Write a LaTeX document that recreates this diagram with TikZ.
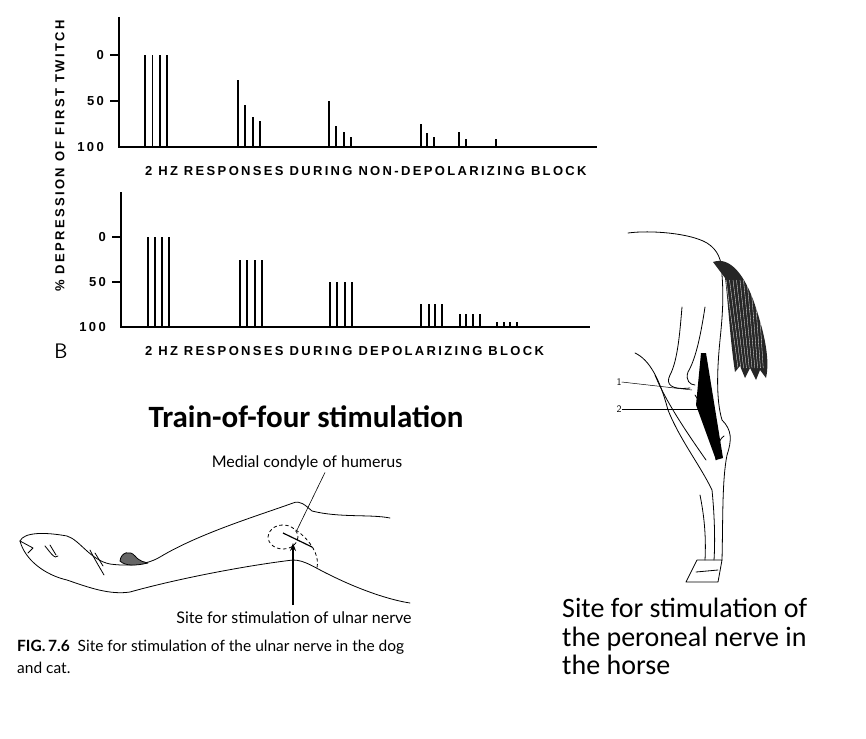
\documentclass[tikz,border=0pt]{standalone}
\usepackage{fontspec}
\setmainfont{Carlito}
\newfontfamily\chartfont[LetterSpace=18]{Liberation Sans}
\newfontfamily\capfont{Lato}
\usetikzlibrary{arrows.meta}
\begin{document}
\begin{tikzpicture}[x=1pt,y=-1pt,
  ax/.style={line width=1.6pt},
  bar/.style={line width=1.5pt},
  lbl/.style={font=\chartfont\bfseries\fontsize{13}{14}\selectfont, inner sep=0},
  tick/.style={font=\chartfont\bfseries\fontsize{13}{14}\selectfont, anchor=east, inner sep=0},
  ink/.style={line width=0.8pt, line join=round, line cap=round},
  big/.style={font=\fontsize{28}{28.5}\selectfont, align=left, anchor=north west, inner sep=0}]
\useasboundingbox (0,0) rectangle (866,738);
% ---------- top chart
\draw[ax] (119,17) -- (119,147) -- (597,147);
\draw[ax] (110,55) -- (119,55) (110,101) -- (119,101);
\node[tick] (t0) at (104,55) {0};
\node[tick] (t50) at (104,101) {50};
\node[tick] (t100) at (104,147) {100};
\foreach \x/\v in {145/0,152.5/0,160/0,167/0,238/27,245/54,253/67,260/72,329/50,336/77,344/84,351/89,421/75,427/85,434/89,459/84,466/91,496/91}
  \draw[bar] (\x,147) -- (\x,{55+0.92*\v});
\node[lbl,anchor=west] (l1) at (145,171) {2 HZ RESPONSES DURING NON-DEPOLARIZING BLOCK};
% ---------- bottom chart
\draw[ax] (121,192) -- (121,327) -- (590,327);
\draw[ax] (112,237) -- (121,237) (112,282) -- (121,282);
\node[tick] (b0) at (106,237) {0};
\node[tick] (b50) at (106,282) {50};
\node[tick] (b100) at (106,327) {100};
\foreach \x/\v in {148/0,155/0,162/0,169/0,240/25,247/25,255/25,262/25,330/50,337/50,345/50,352/50,421/74,429/74,435/74,442/74,460/85,466/85,473/85,480/85,497/94,504/94,510/94,517/94}
  \draw[bar] (\x,327) -- (\x,{237+0.9*\v});
\node[lbl,anchor=west] (l2) at (145,351) {2 HZ RESPONSES DURING DEPOLARIZING BLOCK};
\node[font=\fontsize{21}{21}\selectfont\sffamily, inner sep=0] (B) at (61,351) {B};
\node[lbl,rotate=90] (yl) at (60,156) {\% DEPRESSION OF FIRST TWITCH};
% ---------- titles
\node[font=\bfseries\fontsize{31}{36}\selectfont, inner sep=0] (tof) at (306,417) {Train-of-four stimulation};
\node[big] (horsecap) at (562,598) {Site for stimulation of\\the peroneal nerve in\\the horse};
% ---------- dog leg
\draw[ink] (20,541) .. controls (24,532) and (45,532) .. (67,536) .. controls (80,540) and (90,560) .. (110,564) .. controls (125,566) and (145,566) .. (160,557) .. controls (200,533) and (260,515) .. (293,503) .. controls (300,500) and (305,505) .. (312,511) .. controls (340,518) and (370,514) .. (390,518);
\draw[ink] (20,541) .. controls (25,560) and (45,575) .. (67,580) .. controls (90,588) and (110,595) .. (130,592) .. controls (180,578) and (250,565) .. (293,560) .. controls (305,560) and (315,568) .. (330,575) .. controls (360,590) and (390,600) .. (410,603);
\draw[ink] (20,541) -- (33,548) -- (28,553) (45,546) .. controls (50,552) and (55,560) .. (58,556) (50,545) -- (56,555);
\draw[ink] (90,550) .. controls (95,560) and (100,568) .. (104,575) (95,553) -- (103,566);
\draw[ink,fill=black!60] (120,561) .. controls (121,552) and (130,550) .. (135,556) .. controls (140,562) and (145,562) .. (148,563) .. controls (135,566) and (125,566) .. (120,561);
\draw[ink,dashed] (283,537) ellipse (15 and 12);
\draw[ink,dashed] (296,530) .. controls (310,540) and (320,555) .. (317,568);
\draw[line width=1.2pt] (283,533) -- (312,547);
\coordinate (arrB) at (293,605);
\coordinate (arrT) at (293,543);
\draw[line width=2.2pt,-{Stealth[length=8pt,width=6pt]}] (arrB) -- (arrT);
\node[font=\capfont\fontsize{16}{18}\selectfont, inner sep=0] (med) at (307,463) {Medial condyle of humerus};
\coordinate (medp) at (297,530);
\draw[line width=0.6pt] (med.south) ++(18,2) -- (medp);
\node[font=\capfont\fontsize{16}{18}\selectfont, inner sep=0] (ulnar) at (294,618) {Site for stimulation of ulnar nerve};
\node[font=\capfont\fontsize{15.5}{22}\selectfont, align=left, anchor=north west, inner sep=0] (fig) at (17,640) {{\bfseries FIG.\,7.6}\ \ Site for stimulation of the ulnar nerve in the dog\\and cat.};
% ---------- horse
\draw[ink] (628,233) .. controls (650,230) and (690,233) .. (707,243) .. controls (718,250) and (722,260) .. (722,275) .. controls (724,300) and (722,320) .. (720,340) .. controls (717,370) and (716,400) .. (722,420) .. controls (732,430) and (732,440) .. (727,455) .. controls (722,480) and (723,520) .. (722,560);
\draw[ink] (635,353) .. controls (650,360) and (660,380) .. (668,410) .. controls (680,440) and (700,465) .. (712,490) .. controls (715,520) and (715,545) .. (714,560);
\draw[ink] (655,375) .. controls (665,400) and (685,430) .. (706,460);
\draw[ink] (682,307) .. controls (680,330) and (678,360) .. (670,375) .. controls (665,385) and (672,390) .. (690,388);
\draw[ink] (705,307) .. controls (700,340) and (695,360) .. (688,372) .. controls (685,380) and (690,385) .. (695,385);
\draw[ink] (695,395) .. controls (705,410) and (712,430) .. (716,460);
\draw[ink] (724,436) .. controls (718,440) and (716,450) .. (720,458);
\draw[ink] (700,495) .. controls (705,520) and (706,540) .. (705,560);
\draw[ink] (686,582) -- (697,560) -- (722,560) -- (718,582) -- cycle;
\draw[ink] (696,572) -- (718,570);
\fill (701,353) -- (706,353) -- (723,458) -- (716,460) -- (696,405) -- cycle;
\fill[black!85] (713,262) .. controls (730,256) and (745,275) .. (755,305) .. controls (765,335) and (770,360) .. (766,378) -- (760,370) -- (756,380) -- (750,368) -- (745,378) -- (740,366) -- (735,372) .. controls (730,340) and (728,300) .. (725,278) -- cycle;
\foreach \i in {0,...,9}
  \draw[white,line width=0.3pt] ({726+3.5*\i},280) -- ({738+2.8*\i},368);
\node[font=\sffamily\fontsize{10}{10}\selectfont, inner sep=0] (h1) at (619,382) {1};
\node[font=\sffamily\fontsize{10}{10}\selectfont, inner sep=0] (h2) at (619,409) {2};
\coordinate (p1) at (692,390);
\coordinate (p2) at (698,409);
\draw[line width=0.5pt] (h1.east) -- (p1);
\draw[line width=0.5pt] (h2.east) -- (p2);
\end{tikzpicture}
\end{document}
